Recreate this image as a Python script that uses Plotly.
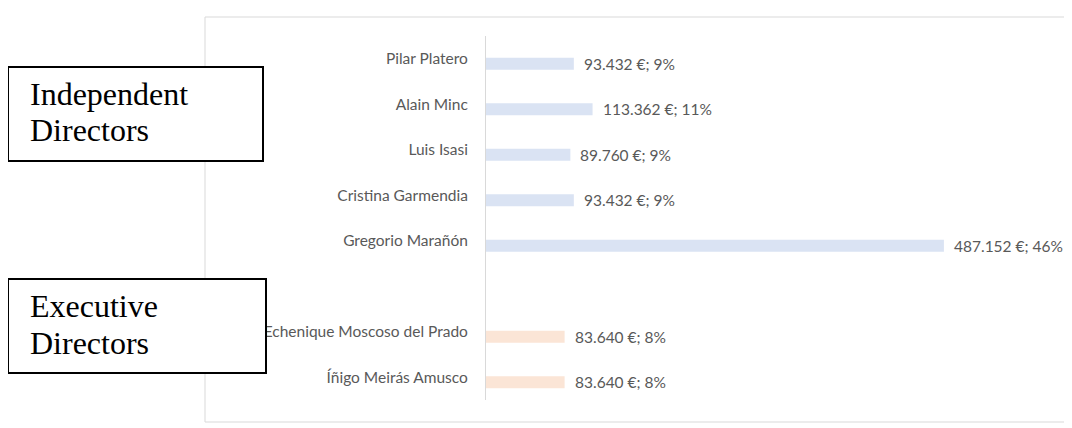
import plotly.graph_objects as go

# data
independent_names = ["Pilar Platero", "Alain Minc", "Luis Isasi",
                     "Cristina Garmendia", "Gregorio Marañón"]
independent_values = [93432, 113362, 89760, 93432, 487152]
independent_pct = ["9%", "11%", "9%", "9%", "46%"]

executive_names = ["Echenique Moscoso del Prado", "Íñigo Meirás Amusco"]
executive_values = [83640, 83640]
executive_pct = ["8%", "8%"]

# blank slot between the two groups
category_order = independent_names + [" "] + executive_names

OFS = 8  # page body margin
W, H = 1072 - OFS, 428 - OFS
M_L, M_R, M_T, M_B = 486 - OFS, 3, 36 - OFS, 28
PX_PER_UNIT = 0.00094  # px per euro
X_MAX = (W - M_L - M_R) / PX_PER_UNIT

GREY_TXT = "#595959"
FONT = "Lato"
FSIZE = 15.5


def px_to_paper(x, y):
    """convert page pixels (as seen in the screenshot) to paper coordinates"""
    x, y = x - OFS, y - OFS
    pw = W - M_L - M_R
    ph = H - M_T - M_B
    return (x - M_L) / pw, (H - M_B - y) / ph


def fmt_eur(v):
    return f"{v:,}".replace(",", ".") + " €"


fig = go.Figure()

slot_px = (H - M_T - M_B) / len(category_order)
bar_w = 12 / slot_px
bar_off = 5 / slot_px - bar_w / 2

fig.add_trace(go.Bar(
    y=independent_names, x=independent_values, orientation="h",
    marker=dict(color="#DAE3F3", line=dict(width=0)),
    width=bar_w, offset=bar_off, showlegend=False, hoverinfo="skip",
))
fig.add_trace(go.Bar(
    y=executive_names, x=executive_values, orientation="h",
    marker=dict(color="#FBE5D6", line=dict(width=0)),
    width=bar_w, offset=bar_off, showlegend=False, hoverinfo="skip",
))

# value labels
for names, vals, pcts in [(independent_names, independent_values, independent_pct),
                          (executive_names, executive_values, executive_pct)]:
    for n, v, p in zip(names, vals, pcts):
        fig.add_annotation(
            x=v, y=n, xref="x", yref="y",
            text=f"{fmt_eur(v)}; {p}",
            showarrow=False, xanchor="left", yanchor="middle",
            xshift=8, yshift=-5,
            font=dict(family=FONT, size=FSIZE, color=GREY_TXT),
        )

shapes = []
# outer chart border
x0, y0 = px_to_paper(205, 17)
x1, y1 = px_to_paper(1068, 422)
shapes.append(dict(type="rect", xref="paper", yref="paper",
                   x0=x0, y0=y0, x1=x1, y1=y1,
                   line=dict(color="#D9D9D9", width=1), layer="below"))

# group boxes
boxes = [
    ((8, 67, 263, 161), ["Independent", "Directors"], [94, 130]),
    ((8, 279, 266, 373), ["Executive", "Directors"], [306, 343]),
]
for (bx0, by0, bx1, by1), lines, ys in boxes:
    a0, b0 = px_to_paper(bx0, by0)
    a1, b1 = px_to_paper(bx1, by1)
    shapes.append(dict(type="rect", xref="paper", yref="paper",
                       x0=a0, y0=b0, x1=a1, y1=b1,
                       line=dict(color="black", width=2),
                       fillcolor="white", layer="above"))
    for txt, ty in zip(lines, ys):
        tx, tyy = px_to_paper(bx0 + 20, ty)
        fig.add_annotation(
            x=tx, y=tyy, xref="paper", yref="paper", text=txt,
            showarrow=False, xanchor="left", yanchor="middle",
            font=dict(family="Liberation Serif", size=32, color="black"),
        )

fig.update_layout(
    width=W, height=H,
    margin=dict(l=M_L, r=M_R, t=M_T, b=M_B),
    paper_bgcolor="white", plot_bgcolor="white",
    barmode="overlay",
    shapes=shapes,
    xaxis=dict(range=[0, X_MAX], visible=False, showgrid=False, zeroline=False),
    yaxis=dict(
        type="category", categoryorder="array", categoryarray=category_order,
        autorange="reversed", showgrid=False, zeroline=False,
        showline=True, linecolor="#D9D9D9", linewidth=1,
        ticks="", ticklabelstandoff=14,
        tickfont=dict(family=FONT, size=FSIZE, color=GREY_TXT),
    ),
)

fig.write_html("out.html")
